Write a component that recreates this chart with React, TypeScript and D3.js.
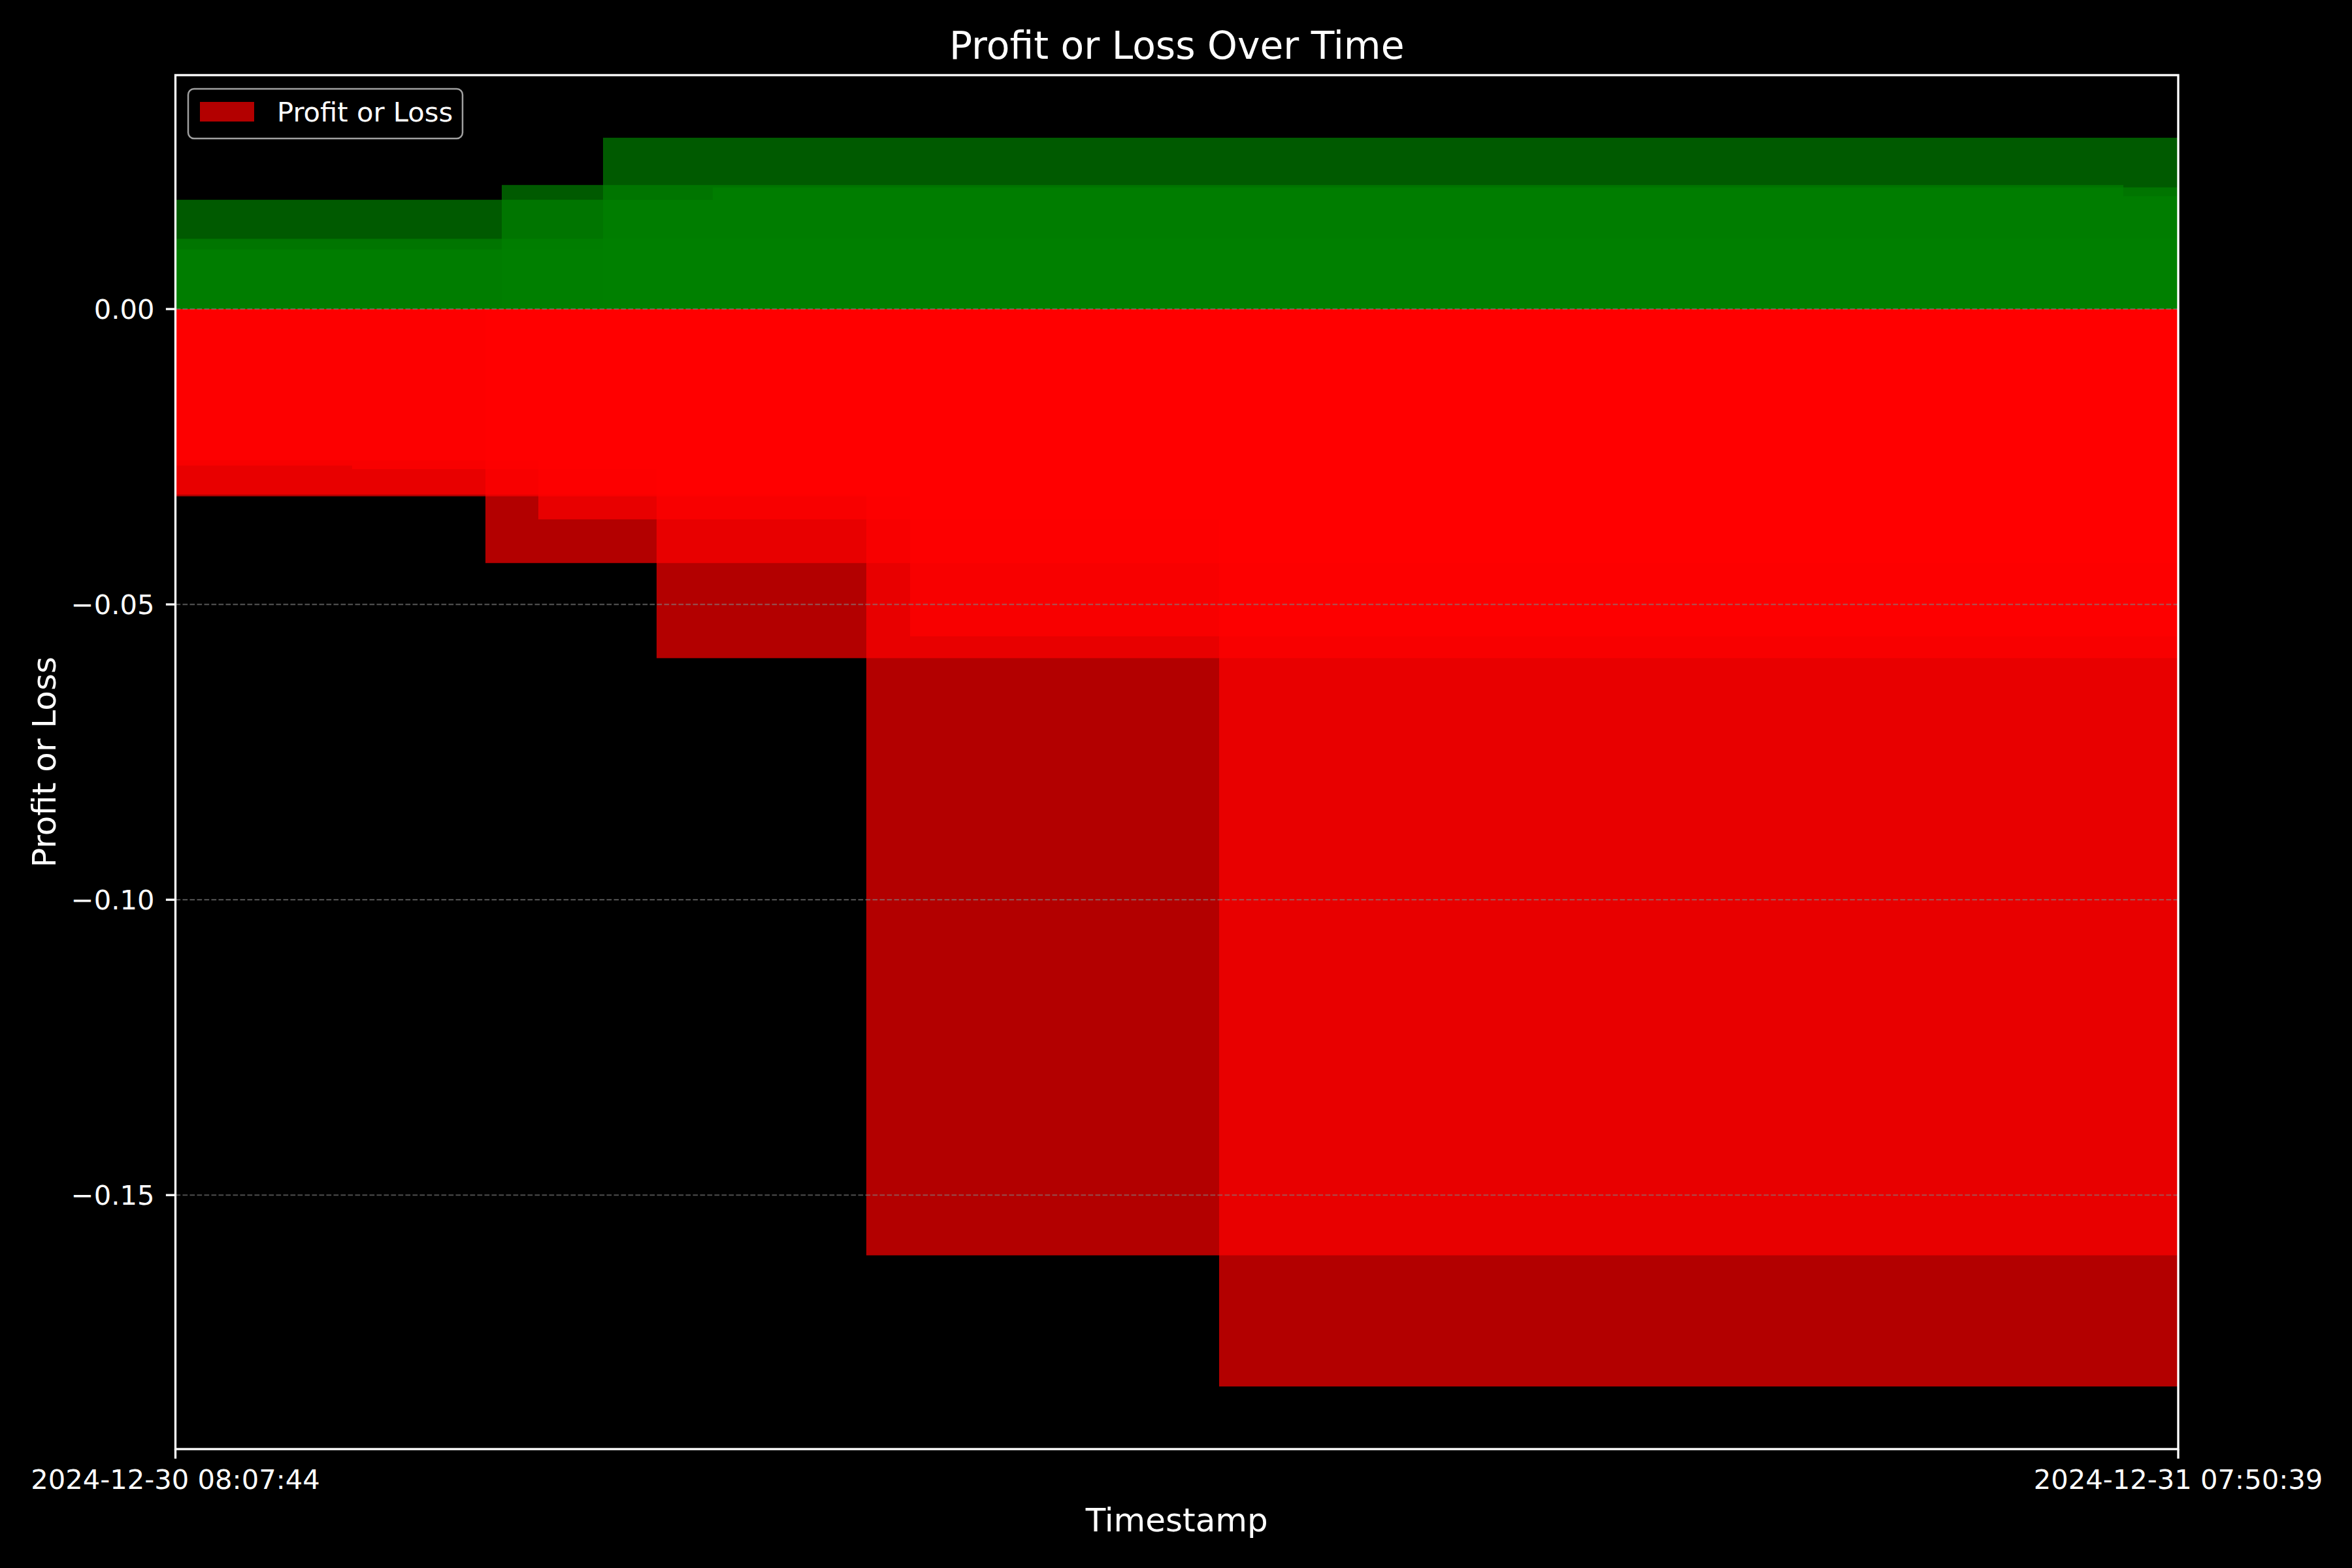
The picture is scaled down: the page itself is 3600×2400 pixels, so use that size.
import React from 'react';
import * as d3 from 'd3';

// ---- data ----
const X_TICK_LABELS = ['2024-12-30 08:07:44', '2024-12-31 07:50:39'];
const Y_TICKS = [0, -0.05, -0.1, -0.15];
const Y_DOMAIN = [-0.193, 0.0396];

const openTimes = [
  '2024-12-30 08:07:44',
  '2024-12-30 08:07:44',
  '2024-12-30 08:07:44',
  '2024-12-30 11:59:35',
  '2024-12-30 13:11:32',
  '2024-12-30 14:29:31',
  '2024-12-31 07:11:38',
  '2024-12-30 08:07:44',
  '2024-12-30 08:07:44',
  '2024-12-30 08:07:44',
  '2024-12-30 08:07:44',
  '2024-12-30 10:13:18',
  '2024-12-30 11:47:59',
  '2024-12-30 12:25:34',
  '2024-12-30 13:49:35',
  '2024-12-30 16:18:35',
  '2024-12-30 16:49:41',
  '2024-12-30 20:29:14',
];
const closeTimes = [
  '2024-12-30 14:29:31',
  '2024-12-31 07:50:39',
  '2024-12-31 07:50:39',
  '2024-12-31 07:11:38',
  '2024-12-31 07:50:39',
  '2024-12-31 07:50:39',
  '2024-12-31 07:50:39',
  '2024-12-31 07:50:39',
  '2024-12-31 07:50:39',
  '2024-12-30 10:13:18',
  '2024-12-31 07:50:39',
  '2024-12-31 07:50:39',
  '2024-12-31 07:50:39',
  '2024-12-31 07:50:39',
  '2024-12-31 07:50:39',
  '2024-12-31 07:50:39',
  '2024-12-31 07:50:39',
  '2024-12-31 07:50:39',
];
const pnlValues = [
  0.0185, 0.0119, 0.0101, 0.0210, 0.0290, 0.0206, 0.0191,
  -0.0317, -0.0314, -0.0265, -0.0256, -0.0271, -0.0430, -0.0356,
  -0.0591, -0.1602, -0.0554, -0.1824,
];

const W = 3600;
const H = 2400;
const L = 268.5;
const R = 3334;
const T = 115;
const B = 2218;
const FONT = 'DejaVu Sans, Verdana, sans-serif';

export default function App() {
  const parse = d3.timeParse('%Y-%m-%d %H:%M:%S');
  const tStart = parse(X_TICK_LABELS[0]) as Date;
  const tEnd = parse(X_TICK_LABELS[1]) as Date;
  const x = d3.scaleTime().domain([tStart, tEnd]).range([L, R]);
  const y = d3.scaleLinear().domain(Y_DOMAIN).range([B, T]);

  const bars = pnlValues.map((v, i) => {
    const x0 = x(parse(openTimes[i]) as Date);
    const x1 = x(parse(closeTimes[i]) as Date);
    const y0 = y(0);
    const y1 = y(v);
    return {
      x: Math.min(x0, x1),
      w: Math.abs(x1 - x0),
      y: Math.min(y0, y1),
      h: Math.abs(y1 - y0),
      color: v >= 0 ? '#008000' : '#ff0000',
    };
  });

  const fmtY = (v: number) => (v < 0 ? '\u2212' : '') + Math.abs(v).toFixed(2);

  return (
    <svg
      width={W}
      height={H}
      viewBox={`0 0 ${W} ${H}`}
      style={{ position: 'absolute', left: 0, top: 0, display: 'block' }}
    >
      <defs>
        <clipPath id="plotClip">
          <rect x={L} y={T} width={R - L} height={B - T} />
        </clipPath>
      </defs>
      <rect x={0} y={0} width={W} height={H} fill="#000" />
      <g clipPath="url(#plotClip)">
        {bars.map((b, i) => (
          <rect key={i} x={b.x} y={b.y} width={b.w} height={b.h} fill={b.color} fillOpacity={0.7} />
        ))}
        {Y_TICKS.map((t) => (
          <line
            key={t}
            x1={L}
            x2={R}
            y1={y(t)}
            y2={y(t)}
            stroke="#808080"
            strokeOpacity={0.6}
            strokeWidth={2.08}
            strokeDasharray="7.7 3.3"
          />
        ))}
      </g>
      {/* spines */}
      <rect x={L} y={T} width={R - L} height={B - T} fill="none" stroke="#fff" strokeWidth={3.33} />
      {/* y ticks */}
      {Y_TICKS.map((t) => (
        <g key={t}>
          <line x1={L - 14.6} x2={L} y1={y(t)} y2={y(t)} stroke="#fff" strokeWidth={3.33} />
          <text x={L - 32} y={y(t) + 15} textAnchor="end" fill="#fff" fontSize={41.67} fontFamily={FONT}>
            {fmtY(t)}
          </text>
        </g>
      ))}
      {/* x ticks */}
      {[tStart, tEnd].map((d, i) => (
        <g key={i}>
          <line x1={x(d)} x2={x(d)} y1={B} y2={B + 14.6} stroke="#fff" strokeWidth={3.33} />
          <text x={x(d)} y={2279} textAnchor="middle" fill="#fff" fontSize={41.67} fontFamily={FONT}>
            {X_TICK_LABELS[i]}
          </text>
        </g>
      ))}
      {/* labels */}
      <text x={(L + R) / 2} y={90} textAnchor="middle" fill="#fff" fontSize={58.3} fontFamily={FONT}>
        Profit or Loss Over Time
      </text>
      <text x={(L + R) / 2} y={2344} textAnchor="middle" fill="#fff" fontSize={50} fontFamily={FONT}>
        Timestamp
      </text>
      <text
        transform={`translate(85, ${(T + B) / 2}) rotate(-90)`}
        textAnchor="middle"
        fill="#fff"
        fontSize={50}
        fontFamily={FONT}
      >
        Profit or Loss
      </text>
      {/* legend */}
      <rect x={288} y={136} width={420} height={76} rx={9} ry={9} fill="#000" fillOpacity={0.8} stroke="#a0a0a0" strokeWidth={2.5} />
      <rect x={306} y={156} width={83} height={30} fill="#ff0000" fillOpacity={0.7} />
      <text x={424} y={186} fill="#fff" fontSize={41.67} fontFamily={FONT}>
        Profit or Loss
      </text>
    </svg>
  );
}
